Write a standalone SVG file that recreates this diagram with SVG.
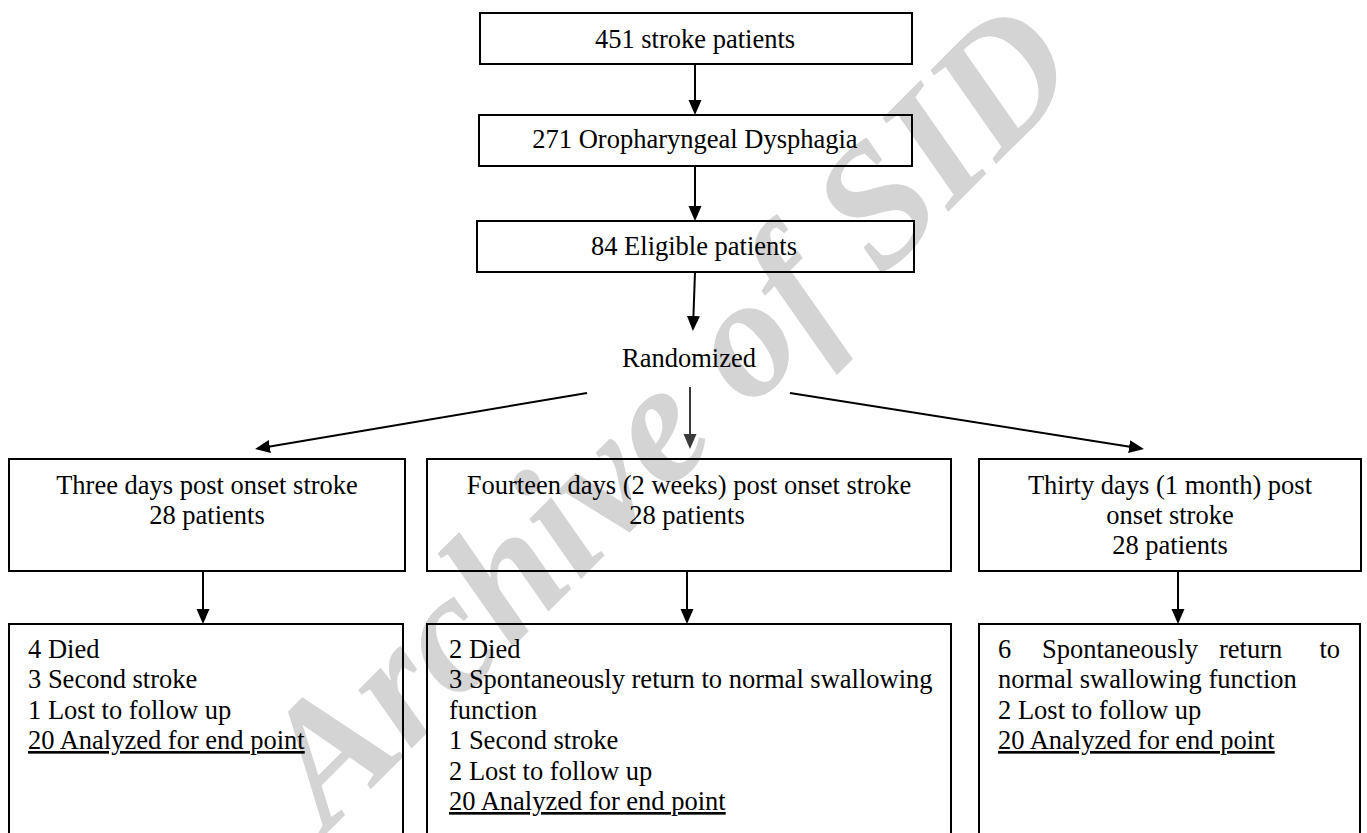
<svg xmlns="http://www.w3.org/2000/svg" width="1367" height="833" viewBox="0 0 1367 833">
<defs>
<marker id="ah" markerUnits="userSpaceOnUse" markerWidth="16" markerHeight="14" refX="12" refY="6.5" orient="auto">
<path d="M0,0 L15,6.5 L0,13 z" fill="#000"/>
</marker>
<marker id="ahg" markerUnits="userSpaceOnUse" markerWidth="16" markerHeight="14" refX="12" refY="6.5" orient="auto">
<path d="M0,0 L15,6.5 L0,13 z" fill="#3a3a3a"/>
</marker>
<style>
text{font-family:"Liberation Serif","Times New Roman",serif;font-size:26.5px;fill:#000}
.c{text-anchor:middle}
.box{fill:none;stroke:#000;stroke-width:2}
.con line{stroke:#000;stroke-width:2;marker-end:url(#ah)}
.u{text-decoration:underline}
.wm{font-size:172px;font-weight:bold;font-style:italic;fill:#d4d4d4}
</style>
</defs>
<rect width="1367" height="833" fill="#fff"/>
<text class="wm" transform="translate(328,832) rotate(-45)">Archive of SID</text>

<g id="connectors" class="con">
<line x1="695" y1="64" x2="695" y2="112"/>
<line x1="695" y1="166" x2="695" y2="218"/>
<line x1="695" y1="272" x2="693" y2="328"/>
<line x1="587" y1="393" x2="258" y2="448.5"/>
<line x1="690" y1="387" x2="690" y2="446" style="stroke:#3a3a3a;marker-end:url(#ahg)"/>
<line x1="790" y1="393" x2="1141" y2="448.5"/>
<line x1="203" y1="571" x2="203" y2="621"/>
<line x1="687" y1="571" x2="687" y2="621"/>
<line x1="1178" y1="571" x2="1178" y2="621"/>
</g>

<g id="n-451">
<rect class="box" x="480" y="13" width="432" height="51"/>
<text class="c" x="695" y="48">451 stroke patients</text>
</g>
<g id="n-271">
<rect class="box" x="479" y="115" width="433" height="51"/>
<text class="c" x="695" y="148">271 Oropharyngeal Dysphagia</text>
</g>
<g id="n-84">
<rect class="box" x="477" y="221" width="437" height="51"/>
<text class="c" x="694" y="255">84 Eligible patients</text>
</g>
<g id="n-rand">
<text class="c" x="689" y="367">Randomized</text>
</g>

<g id="n-three">
<rect class="box" x="9" y="459" width="396" height="112"/>
<text class="c" x="207" y="494">Three days post onset stroke</text>
<text class="c" x="207" y="524">28 patients</text>
</g>
<g id="n-fourteen">
<rect class="box" x="427" y="459" width="524" height="112"/>
<text class="c" x="689" y="494">Fourteen days (2 weeks) post onset stroke</text>
<text class="c" x="687" y="524">28 patients</text>
</g>
<g id="n-thirty">
<rect class="box" x="979" y="459" width="382" height="112"/>
<text class="c" x="1170" y="494">Thirty days (1 month) post</text>
<text class="c" x="1170" y="524">onset stroke</text>
<text class="c" x="1170" y="554">28 patients</text>
</g>

<g id="n-out-three">
<rect class="box" x="9" y="624" width="394" height="230"/>
<text x="28" y="657.5">4 Died</text>
<text x="28" y="688">3 Second stroke</text>
<text x="28" y="718.5">1 Lost to follow up</text>
<text class="u" x="28" y="749">20 Analyzed for end point</text>
</g>
<g id="n-out-fourteen">
<rect class="box" x="427" y="624" width="524" height="230"/>
<text x="449" y="657.5">2 Died</text>
<text x="449" y="688">3 Spontaneously return to normal swallowing</text>
<text x="449" y="718.5">function</text>
<text x="449" y="749">1 Second stroke</text>
<text x="449" y="779.5">2 Lost to follow up</text>
<text class="u" x="449" y="810">20 Analyzed for end point</text>
</g>
<g id="n-out-thirty">
<rect class="box" x="979" y="624" width="381" height="230"/>
<text y="657.5"><tspan x="998">6</tspan><tspan x="1042">Spontaneously</tspan><tspan x="1219">return</tspan><tspan x="1340" text-anchor="end">to</tspan></text>
<text x="998" y="688">normal swallowing function</text>
<text x="998" y="718.5">2 Lost to follow up</text>
<text class="u" x="998" y="749">20 Analyzed for end point</text>
</g>
</svg>
